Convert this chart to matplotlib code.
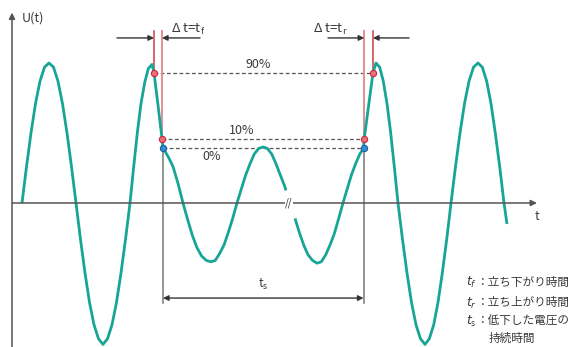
import matplotlib
matplotlib.use("Agg")
import matplotlib.pyplot as plt

plt.rcParams['font.family'] = ['Noto Sans CJK JP', 'DejaVu Sans']

# waveform before the "//" break (t in ms, U in p.u.)
pre_t = [2.0, 2.9, 3.8, 4.7, 5.6, 6.5, 7.4, 8.3, 9.2, 10.1, 11.0, 11.9, 12.8,
         13.7, 14.6, 15.5, 16.4, 17.3, 18.2, 19.1, 20.0, 20.9, 21.8, 22.7, 23.6,
         24.34, 25.06, 25.8, 26.54, 27.26, 28.0, 28.4, 29.2, 30.0, 30.2,
         30.6, 31.4, 32.2, 33.2, 34.2, 35.14, 36.06, 37.0, 37.94, 38.86, 39.8,
         40.66, 41.54, 42.4, 43.26, 44.14, 45.0, 45.86, 46.74, 47.6, 48.46, 49.34, 50.2,
         51.06, 51.94, 52.8, 53.66, 54.54, 54.8]
pre_u = [0, .26, .50, .71, .87, .97, 1.0, .97, .87, .71, .50, .26, 0,
         -.26, -.50, -.71, -.87, -.97, -1.01, -.97, -.87, -.71, -.50, -.26, 0,
         .26, .50, .71, .86, .96, .99, .93, .70, .46, .39,
         .37, .32, .26, .14, 0, -.12, -.23, -.32, -.38, -.41, -.42,
         -.41, -.36, -.30, -.21, -.11, 0, .10, .20, .28, .35, .39, .40,
         .39, .35, .28, .20, .12, .09]

# waveform after the break
post_t = [56.6, 57.46, 58.34, 59.2, 60.1, 61.0, 61.86, 62.74, 63.6, 64.46, 65.34, 66.2,
          67.04, 67.88, 68.72, 69.56, 70.3, 70.45, 71.3, 72.2, 72.8,
          73.54, 74.26, 75.0, 75.74, 76.46, 77.2, 78.1, 79.0, 79.9, 80.8, 81.7, 82.6,
          83.46, 84.34, 85.2, 86.06, 86.94, 87.8, 88.7, 89.6, 90.5, 91.4, 92.3, 93.2,
          94.06, 94.94, 95.8, 96.66, 97.54, 98.4, 99.0]
post_u = [-.11, -.21, -.30, -.37, -.41, -.43, -.42, -.37, -.30, -.22, -.11, 0,
          .10, .20, .28, .35, .39, .46, .69, .93, 1.0,
          .97, .87, .71, .50, .26, 0, -.26, -.50, -.71, -.87, -.97, -1.01,
          -.97, -.87, -.71, -.50, -.26, 0, .26, .50, .71, .87, .97, 1.0,
          .97, .87, .71, .50, .26, 0, -.15]

# 90 / 10 / 0 % crossing points
levels = [0.93, 0.46, 0.39]
level_labels = ['90%', '10%', '0%']
fall_t = [28.4, 30.0, 30.2]
rise_t = [72.2, 70.45, 70.3]
label_t = [49.2, 46.0, 40.0]
label_u = [0.99, 0.52, 0.335]

legend_sym = [r'$t_f$', r'$t_r$', r'$t_\mathregular{s}$']
legend_txt = ['：立ち下がり時間', '：立ち上がり時間', '：低下した電圧の']
legend_extra = '持続時間'

teal = '#17a596'
dark = '#3a3a3a'
axc = '#555555'
red = '#d23b48'
pink = '#e58d96'

fig = plt.figure(figsize=(5.73, 3.47), dpi=100)
ax = fig.add_axes([0, 0, 1, 1])
ax.set_xlim(-2.4, 112.2)
ax.set_ylim(-1.0286, 1.45)
ax.axis('off')

# axes with arrows
ax.annotate('', xy=(105, 0), xytext=(0, 0),
            arrowprops=dict(arrowstyle='-|>', color=axc, lw=1.1, mutation_scale=9,
                            shrinkA=0, shrinkB=0))
ax.annotate('', xy=(0, 1.36), xytext=(0, -1.03),
            arrowprops=dict(arrowstyle='-|>', color=axc, lw=1.1, mutation_scale=9,
                            shrinkA=0, shrinkB=0))
ax.text(2.0, 1.32, 'U(t)', fontsize=9, color=dark, ha='left', va='center')
ax.text(105, -0.1, 't', fontsize=9, color=dark, ha='center', va='center')
ax.text(55.4, 0, '//', fontsize=7, color='#222222', ha='center', va='center', style='italic',
        bbox=dict(facecolor='white', edgecolor='none', pad=0.3))

# dashed level lines
for lv, a, b in zip(levels, fall_t, rise_t):
    ax.plot([a, b], [lv, lv], color=axc, lw=0.9, ls=(0, (3, 2)))
for lbl, lt, lu in zip(level_labels, label_t, label_u):
    ax.text(lt, lu, lbl, fontsize=9, color=dark, ha='center', va='center')

# vertical markers for the fall / rise
top = 1.229
ax.plot([fall_t[0], fall_t[0]], [levels[0], top], color=red, lw=1.1)
ax.plot([fall_t[1], fall_t[1]], [levels[1], top], color=pink, lw=1.4)
ax.plot([rise_t[1], rise_t[1]], [levels[1], top], color=pink, lw=1.4)
ax.plot([rise_t[0], rise_t[0]], [levels[0], top], color=red, lw=1.1)

# t_s verticals
ax.plot([fall_t[2], fall_t[2]], [levels[2], -0.714], color='#777777', lw=1.1)
ax.plot([rise_t[2], rise_t[2]], [levels[2], -0.714], color='#777777', lw=1.1)

# waveform
ax.plot(pre_t, pre_u, color=teal, lw=2.0, solid_capstyle='butt', solid_joinstyle='round')
ax.plot(post_t, post_u, color=teal, lw=2.0, solid_capstyle='butt', solid_joinstyle='round')

# crossing dots
ax.plot(fall_t[:2], levels[:2], 'o', ms=4.5, mfc='#e8707c', mec='#c8283a', mew=0.8)
ax.plot(rise_t[:2], levels[:2], 'o', ms=4.5, mfc='#e8707c', mec='#c8283a', mew=0.8)
ax.plot([fall_t[2], rise_t[2]], [levels[2], levels[2]], 'o', ms=4.5,
        mfc='#2d8fd0', mec='#1f5f9a', mew=0.8)

# delta-t arrows
arr = dict(arrowstyle='-|>', color='#333333', lw=1.0, mutation_scale=8, shrinkA=0, shrinkB=0)
ya = 1.179
ax.annotate('', xy=(fall_t[0], ya), xytext=(21.0, ya), arrowprops=arr)
ax.annotate('', xy=(fall_t[1], ya), xytext=(37.6, ya), arrowprops=arr)
ax.annotate('', xy=(rise_t[1], ya), xytext=(63.2, ya), arrowprops=arr)
ax.annotate('', xy=(rise_t[0], ya), xytext=(79.4, ya), arrowprops=arr)
ax.text(31.8, 1.215, r'Δ t=t$_\mathregular{f}$', fontsize=9.5, color=dark, ha='left', va='baseline')
ax.text(60.2, 1.215, r'Δ t=t$_\mathregular{r}$', fontsize=9.5, color=dark, ha='left', va='baseline')

# t_s span
ax.annotate('', xy=(rise_t[2], -0.679), xytext=(fall_t[2], -0.679),
            arrowprops=dict(arrowstyle='<|-|>', color='#333333', lw=1.0, mutation_scale=8,
                            shrinkA=0, shrinkB=0))
ax.text(50.2, -0.58, r't$_\mathregular{s}$', fontsize=9, color=dark, ha='center', va='center')

# legend text
leg_u = [-0.571, -0.714, -0.843]
for sym, txt, lu in zip(legend_sym, legend_txt, leg_u):
    ax.text(90.8, lu, sym, fontsize=9, color=dark, ha='left', va='center')
    ax.text(92.9, lu, txt, fontsize=8.4, color=dark, ha='left', va='center')
ax.text(95.4, -0.964, legend_extra, fontsize=8.4, color=dark, ha='left', va='center')

fig.savefig('out.png', dpi=100)
